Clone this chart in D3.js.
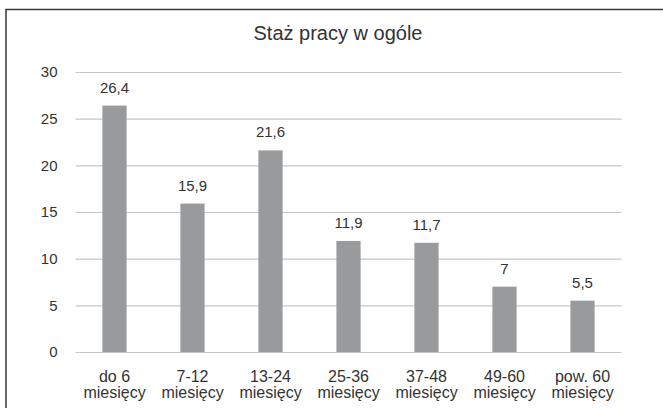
<!DOCTYPE html>
<html><head><meta charset="utf-8">
<script src="https://cdn.jsdelivr.net/npm/d3@7"></script>
<style>body{margin:0;background:#fff;}svg{display:block;font-family:"Liberation Sans",Arial,sans-serif;}</style>
</head><body>
<svg id="c" width="663" height="408"></svg>
<script>
const title = "Staż pracy w ogóle";
const categories = [["do 6","miesięcy"],["7-12","miesięcy"],["13-24","miesięcy"],["25-36","miesięcy"],["37-48","miesięcy"],["49-60","miesięcy"],["pow. 60","miesięcy"]];
const values = [26.4, 15.9, 21.6, 11.9, 11.7, 7, 5.5];
const valueLabels = ["26,4","15,9","21,6","11,9","11,7","7","5,5"];
const yTicks = [0,5,10,15,20,25,30];

(function(){
const svg = d3.select("#c");
const mLeft = 75.5, mRight = 621.5, mTop = 72, mBottom = 352;
const x = d3.scaleBand().domain(d3.range(categories.length)).range([mLeft, mRight]).paddingInner(0.69).paddingOuter(0.345);
const y = d3.scaleLinear().domain([0,30]).range([mBottom, mTop]);

svg.append("rect").attr("x",6).attr("y",9.5).attr("width",720).attr("height",500)
  .attr("fill","#fff").attr("stroke","#3a3a3a").attr("stroke-width",1.5);

svg.append("text").attr("x",338).attr("y",40).attr("text-anchor","middle")
  .attr("font-size",20).attr("fill","#333").text(title);

const yAxis = svg.append("g").attr("transform",`translate(${mLeft},0)`)
  .call(d3.axisLeft(y).tickValues(yTicks).tickSize(-(mRight-mLeft)).tickPadding(18).tickFormat(d3.format("d")));
yAxis.select(".domain").remove();
yAxis.selectAll(".tick line").attr("stroke","#c6c6c6").attr("stroke-width",1.2);
yAxis.selectAll(".tick text").attr("font-size",15).attr("fill","#333").attr("font-family","Liberation Sans, Arial, sans-serif");

svg.append("g").selectAll("rect").data(values).join("rect")
  .attr("x",(d,i)=>x(i)).attr("width",x.bandwidth())
  .attr("y",d=>y(d)).attr("height",d=>y(0)-y(d)).attr("fill","#999a9c");

svg.append("g").selectAll("text").data(values).join("text")
  .attr("x",(d,i)=>x(i)+x.bandwidth()/2).attr("y",d=>y(d)-13)
  .attr("text-anchor","middle").attr("font-size",15).attr("fill","#333")
  .text((d,i)=>valueLabels[i]);

const xAxis = svg.append("g").attr("transform",`translate(0,${mBottom})`)
  .call(d3.axisBottom(x).tickSize(0).tickFormat(""));
xAxis.select(".domain").remove();
xAxis.selectAll(".tick").each(function(d){
  const t = d3.select(this).append("text").attr("text-anchor","middle").attr("font-size",16).attr("fill","#333").attr("font-family","Liberation Sans, Arial, sans-serif");
  categories[d].forEach((line,j)=>t.append("tspan").attr("x",0).attr("y",30+j*15.5).text(line));
});
})();
</script>
</body></html>
